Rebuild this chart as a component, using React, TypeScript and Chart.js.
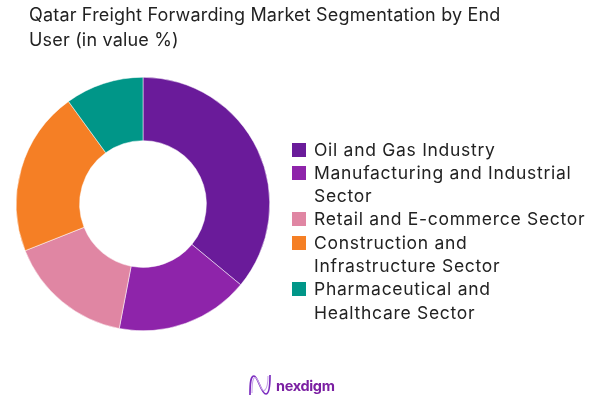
import React, {useEffect, useRef} from 'react'
import {Chart, registerables} from 'chart.js'

Chart.register(...registerables)

const categories = [
  'Oil and Gas Industry',
  'Manufacturing and Industrial Sector',
  'Retail and E-commerce Sector',
  'Construction and Infrastructure Sector',
  'Pharmaceutical and Healthcare Sector',
]
const shares = [36, 17, 16, 21, 10]
const colors = ['#6a1b9a', '#8e24aa', '#e086a3', '#f57f25', '#009688']
const titleLines = ['Qatar Freight Forwarding Market Segmentation by End', 'User (in value %)']

const FONT = 'Inter, sans-serif'

const App: React.FC = () => {
  const chartRef = useRef<HTMLCanvasElement | null>(null)

  useEffect(() => {
    if (!chartRef.current) {
      return
    }

    const chart = new Chart(chartRef.current, {
      type: 'doughnut',
      data: {
        labels: categories,
        datasets: [
          {
            data: shares,
            backgroundColor: colors,
            borderColor: '#ffffff',
            borderWidth: 0.5,
          },
        ],
      },
      options: {
        animation: false,
        responsive: false,
        cutout: '50%',
        layout: {padding: {left: 16, right: 328, top: 77, bottom: 69}},
        plugins: {
          legend: {display: false},
          title: {display: false},
          tooltip: {enabled: false},
        },
      },
    })

    return () => chart.destroy()
  }, [])

  return (
    <div style={{position: 'fixed', left: 0, top: 0, width: 598, height: 400, background: '#fff', fontFamily: FONT, color: '#222222'}}>
      <canvas ref={chartRef} width={598} height={400} style={{position: 'absolute', left: 0, top: 0}}></canvas>

      <div style={{position: 'absolute', left: 29, top: 3, fontSize: 18, lineHeight: '24.5px', letterSpacing: 0.18, whiteSpace: 'nowrap'}}>
        {titleLines.map((line) => (
          <div key={line}>{line}</div>
        ))}
      </div>

      <div style={{position: 'absolute', left: 292, top: 137.5, fontSize: 17.5, lineHeight: '23.3px', letterSpacing: 0.71}}>
        {categories.map((name, i) => (
          <div key={name} style={{position: 'relative', paddingLeft: 22, width: 275}}>
            <span style={{position: 'absolute', left: 0, top: 5, width: 14, height: 14, background: colors[i]}}></span>
            {name}
          </div>
        ))}
      </div>

      {/* logo */}
      <svg width={24} height={24} viewBox='0 0 24 24' style={{position: 'absolute', left: 248, top: 373}}>
        <path d='M2 22 C2 8 3 3 6 3 C10 3 13 21 18 21 C21 21 22 14 22 2' fill='none' stroke='#7b2cbf' strokeWidth={1.7} />
        <path d='M4 20 C4 6 6 2 9 6 C12 11 14 20 17 17 C20 14 20 8 20 3' fill='none' stroke='#c9a6e8' strokeWidth={1.1} />
      </svg>
      <div style={{position: 'absolute', left: 276, top: 376, fontSize: 14.5, lineHeight: '20px', fontWeight: 700, color: '#7b1fa2', letterSpacing: -0.35}}>
        nexdigm
      </div>
    </div>
  )
}

export default App
